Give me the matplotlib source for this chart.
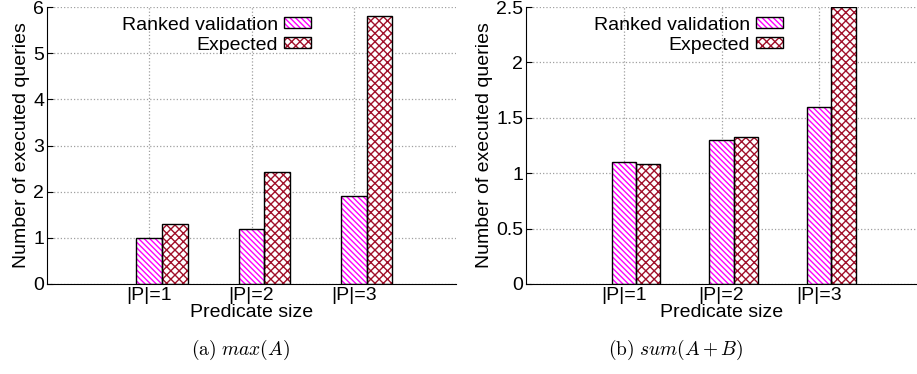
import numpy as np
from matplotlib import pyplot as plt
from matplotlib.patches import Patch
from matplotlib.ticker import FormatStrFormatter

plt.rcParams['font.family'] = ['Liberation Sans', 'DejaVu Sans']
plt.rcParams['mathtext.fontset'] = 'cm'
plt.rcParams['hatch.linewidth'] = 1.0

categories = ["|P|=1", "|P|=2", "|P|=3"]
ranked_a = [1.0, 1.2, 1.9]
expected_a = [1.3, 2.43, 5.8]
ranked_b = [1.1, 1.3, 1.6]
expected_b = [1.08, 1.33, 2.5]

c_ranked = "#ff00ff"
c_expected = "#a0102a"
h_ranked = "\\" * 6
h_expected = "xxxx"
w = 0.25
fs = 14

fig = plt.figure(figsize=(9.17, 3.74), dpi=100)
W, H = 917, 374
ax1 = fig.add_axes([47/W, 90/H, 409/W, 277/H])
ax2 = fig.add_axes([526/W, 90/H, 391/W, 277/H])

def panel(ax, ranked, expected, ymax, step, leg_x):
    x = np.arange(len(categories))
    # hatch first, then black outline on top
    ax.bar(x, ranked, w, color="white", edgecolor=c_ranked, hatch=h_ranked, lw=0, zorder=2)
    ax.bar(x + w, expected, w, color="white", edgecolor=c_expected, hatch=h_expected, lw=0, zorder=2)
    ax.bar(x, ranked, w, fill=False, edgecolor="black", lw=1.0, zorder=3)
    ax.bar(x + w, expected, w, fill=False, edgecolor="black", lw=1.0, zorder=3)
    ax.set_xlim(-1, 3)
    ax.set_ylim(0, ymax)
    ax.set_xticks(x)
    ax.set_xticklabels(categories)
    ax.set_yticks(np.arange(0, ymax + step / 2, step))
    ax.yaxis.set_major_formatter(FormatStrFormatter("%g"))
    ax.grid(True, ls=":", color="#a0a0a0", lw=0.9, zorder=0)
    ax.set_axisbelow(True)
    for s in ["top", "right"]:
        ax.spines[s].set_visible(False)
    ax.tick_params(direction="in", labelsize=fs, length=4, pad=2)
    ax.set_xlabel("Predicate size", fontsize=fs, labelpad=0)
    ax.set_ylabel("Number of executed queries", fontsize=fs, labelpad=2)
    handles = [(Patch(facecolor="white", edgecolor=c_ranked, hatch=h_ranked, lw=0),
                Patch(fill=False, edgecolor="black", lw=1.0)),
               (Patch(facecolor="white", edgecolor=c_expected, hatch=h_expected, lw=0),
                Patch(fill=False, edgecolor="black", lw=1.0))]
    leg = ax.legend(handles, ["Ranked validation", "Expected"], loc="upper right",
                    bbox_to_anchor=(leg_x, 0.965), markerfirst=False,
                    frameon=False, fontsize=fs, handlelength=1.4, handleheight=0.5,
                    handletextpad=0.3, labelspacing=0.15, borderaxespad=0.0, borderpad=0.0)
    for t in leg.get_texts():
        t.set_ha("right")

panel(ax1, ranked_a, expected_a, 6, 1, 0.645)
panel(ax2, ranked_b, expected_b, 2.5, 0.5, 0.657)

fig.text(240/W, 1 - 350/H, r"$\mathrm{(a)}\ max(A)$", ha="center", va="center", fontsize=14)
fig.text(676/W, 1 - 350/H, r"$\mathrm{(b)}\ sum(A+B)$", ha="center", va="center", fontsize=14)

plt.savefig("out.png", dpi=100)
